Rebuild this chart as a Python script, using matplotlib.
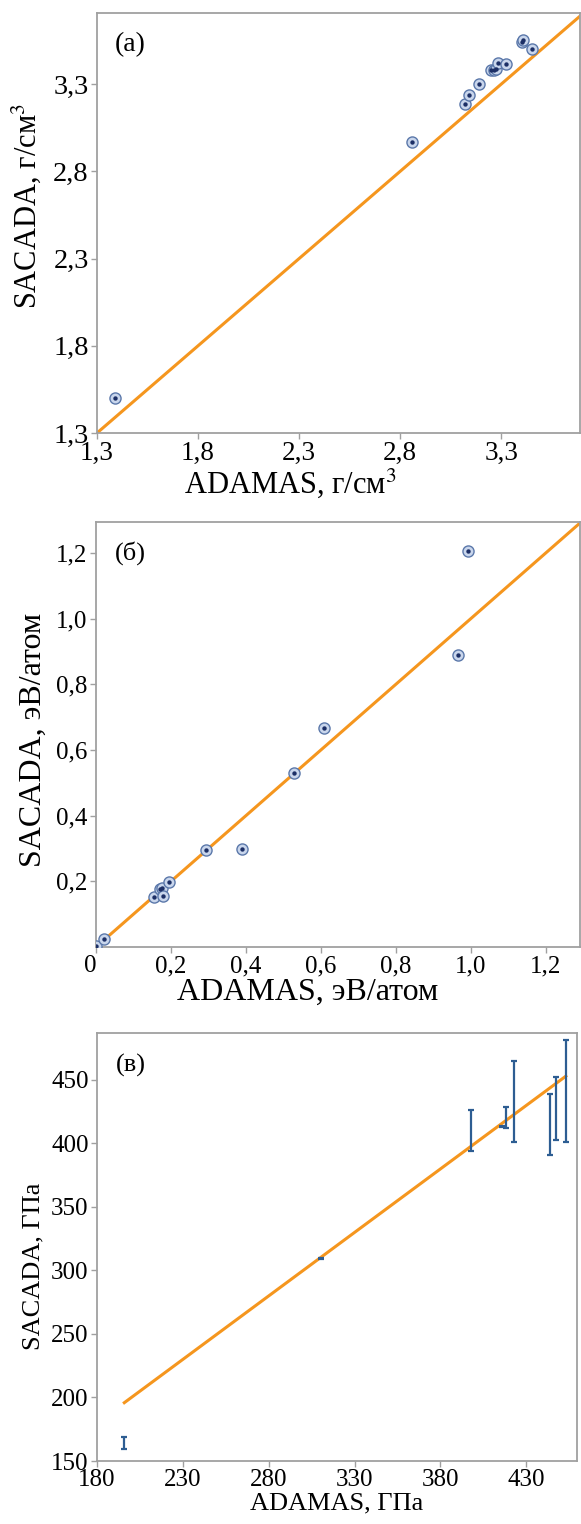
import matplotlib
matplotlib.use("Agg")
import matplotlib.pyplot as plt
import numpy as np

plt.rcParams['font.family'] = ['Liberation Serif', 'DejaVu Serif']
plt.rcParams['mathtext.fontset'] = 'stix'

# ---- data (а) density, g/cm3 ----
dens_adamas = [1.39, 2.86, 3.12, 3.14, 3.19, 3.25, 3.265, 3.275, 3.285, 3.325, 3.404, 3.409, 3.453]
dens_sacada = [1.50, 2.97, 3.185, 3.237, 3.30, 3.38, 3.38, 3.386, 3.42, 3.415, 3.54, 3.553, 3.50]
dens_ticks = [1.3, 1.8, 2.3, 2.8, 3.3]
dens_ticklabels = ['1,3', '1,8', '2,3', '2,8', '3,3']

# ---- data (б) formation energy, eV/atom ----
en_adamas = [0.0, 0.021, 0.155, 0.170, 0.176, 0.179, 0.195, 0.293, 0.389, 0.528, 0.608, 0.965, 0.992]
en_sacada = [0.003, 0.024, 0.152, 0.176, 0.179, 0.155, 0.197, 0.294, 0.297, 0.530, 0.667, 0.888, 1.206]
en_xticks = [0, 0.2, 0.4, 0.6, 0.8, 1.0, 1.2]
en_xticklabels = ['0', '0,2', '0,4', '0,6', '0,8', '1,0', '1,2']
en_yticks = [0.2, 0.4, 0.6, 0.8, 1.0, 1.2]
en_yticklabels = ['0,2', '0,4', '0,6', '0,8', '1,0', '1,2']

# ---- data (в) bulk modulus, GPa ----
bm_adamas = [195.9, 310.4, 397.5, 415.7, 418.4, 422.9, 444.0, 447.4, 453.0]
bm_sacada_lo = [159.2, 308.8, 393.7, 413.0, 412.1, 400.8, 391.1, 402.9, 400.8]
bm_sacada_hi = [168.7, 309.8, 426.6, 413.6, 428.7, 465.2, 438.6, 452.4, 481.2]
bm_xticks = [180, 230, 280, 330, 380, 430]
bm_yticks = [150, 200, 250, 300, 350, 400, 450]

ORANGE = '#f5961e'
RING_FACE = '#c9d6ec'
RING_EDGE = '#5b78aa'
DOT = '#1c2f66'
BAR = '#2d5d92'
SPINE = '#a0a0a0'

W, H = 581, 1524
fig = plt.figure(figsize=(W / 100, H / 100), dpi=100)


def make_ax(left, right, top, bottom, xfs, yfs):
    ax = fig.add_axes([left / W, 1 - bottom / H, (right - left) / W, (bottom - top) / H])
    for s in ax.spines.values():
        s.set_color(SPINE)
        s.set_linewidth(1.3)
    ax.tick_params(axis='both', direction='out', length=4, width=1.0, color=SPINE,
                   pad=2, top=False, right=False)
    ax.tick_params(axis='x', labelsize=xfs)
    ax.tick_params(axis='y', labelsize=yfs)
    return ax


def scatter_rings(ax, x, y):
    ax.scatter(x, y, s=64, facecolor=RING_FACE, edgecolor=RING_EDGE, linewidth=1.0, zorder=3)
    ax.scatter(x, y, s=10, color=DOT, linewidth=0, zorder=4)


# (а)
ax1 = make_ax(97, 580, 13, 433, 19.5, 20.5)
lo, hi = 1.3, 3.705
ax1.plot([lo, hi], [lo, hi], color=ORANGE, lw=2.2, zorder=2, solid_capstyle='butt')
scatter_rings(ax1, dens_adamas, dens_sacada)
ax1.set_xlim(1.3, 3.69)
ax1.set_ylim(1.3, 3.708)
ax1.set_xticks(dens_ticks)
ax1.set_xticklabels(dens_ticklabels)
ax1.set_yticks(dens_ticks)
ax1.set_yticklabels(dens_ticklabels)
ax1.set_xlabel('ADAMAS, г/см$^{3}$', fontsize=22, labelpad=0)
ax1.set_ylabel('SACADA, г/см$^{3}$', fontsize=22, labelpad=7)
ax1.xaxis.label.set_x(0.40)
ax1.yaxis.label.set_y(0.54)
ax1.text(0.037, 0.924, '(a)', transform=ax1.transAxes, fontsize=20, ha='left', va='center')

# (б)
ax2 = make_ax(96, 580, 522, 947, 18, 18)
ax2.plot([0, 1.3], [0, 1.3], color=ORANGE, lw=2.2, zorder=2)
scatter_rings(ax2, en_adamas, en_sacada)
ax2.set_xlim(0, 1.291)
ax2.set_ylim(0, 1.294)
ax2.set_xticks(en_xticks)
ax2.set_xticklabels(en_xticklabels)
ax2.get_xticklabels()[0].set_horizontalalignment('right')
ax2.set_yticks(en_yticks)
ax2.set_yticklabels(en_yticklabels)
ax2.set_xlabel('ADAMAS, эВ/атом', fontsize=23, labelpad=0)
ax2.set_ylabel('SACADA, эВ/атом', fontsize=23, labelpad=6)
ax2.xaxis.label.set_x(0.438)
ax2.yaxis.label.set_y(0.487)
ax2.text(0.04, 0.927, '(б)', transform=ax2.transAxes, fontsize=19, ha='left', va='center')

# (в)
ax3 = make_ax(97, 577, 1033, 1461, 18, 18)
bx = np.array(bm_adamas)
blo = np.array(bm_sacada_lo)
bhi = np.array(bm_sacada_hi)
ax3.plot([bx.min(), bx.max()], [bx.min(), bx.max()], color=ORANGE, lw=2.2, zorder=2)
mid = (blo + bhi) / 2
ax3.errorbar(bx, mid, yerr=[mid - blo, bhi - mid], fmt='none', ecolor=BAR,
             elinewidth=1.6, capsize=2.0, capthick=1.6, zorder=3)
ax3.set_xlim(180, 459.5)
ax3.set_ylim(150, 487)
ax3.set_xticks(bm_xticks)
ax3.set_yticks(bm_yticks)
ax3.set_xlabel('ADAMAS, ГПа', fontsize=19, labelpad=1)
ax3.set_ylabel('SACADA, ГПа', fontsize=19, labelpad=5)
ax3.yaxis.label.set_y(0.456)
ax3.text(0.04, 0.925, '(в)', transform=ax3.transAxes, fontsize=19, ha='left', va='center')

fig.savefig('out.png', dpi=100)
